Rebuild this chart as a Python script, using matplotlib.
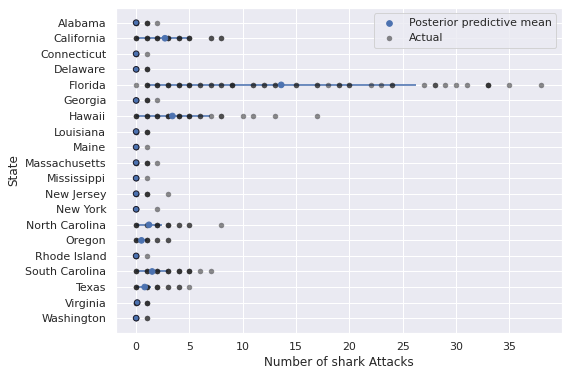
import matplotlib
matplotlib.use("Agg")
import matplotlib.pyplot as plt
import seaborn as sns

sns.set_theme()

states = ["Alabama", "California", "Connecticut", "Delaware", "Florida", "Georgia",
          "Hawaii", "Louisiana", "Maine", "Massachusetts", "Mississippi", "New Jersey",
          "New York", "North Carolina", "Oregon", "Rhode Island", "South Carolina",
          "Texas", "Virginia", "Washington"]

# posterior predictive mean and interval
pp_mean = [0.0, 2.7, 0.0, 0.0, 13.6, 0.0, 3.4, 0.0, 0.0, 0.0, 0.0, 0.0,
           0.0, 1.2, 0.5, 0.0, 1.5, 0.8, 0.1, 0.0]
pp_low = [0, 0, 0, 0, 1, 0, 0, 0, 0, 0, 0, 0, 0, 0, 0, 0, 0, 0, 0, 0]
pp_high = [0.3, 5, 0.2, 0.3, 26.2, 0.3, 6.9, 0.3, 0.2, 0.3, 0.2, 0.3,
           0.2, 2.4, 1.0, 0.2, 3.0, 1.4, 0.3, 0.3]

# actual yearly attack counts (repeats give the darker dots)
actual = {
    "Alabama": [0, 0, 0, 1, 1, 1, 2],
    "California": [0, 0, 0, 1, 1, 1, 2, 2, 2, 3, 3, 3, 4, 4, 4, 5, 5, 5, 7, 7, 8, 8],
    "Connecticut": [0, 0, 0, 1],
    "Delaware": [0, 0, 0, 1, 1, 1],
    "Florida": [0, 1, 1, 1, 2, 2, 2, 3, 3, 3, 4, 4, 4, 5, 5, 5, 6, 6, 7, 7, 8, 8, 9, 9, 9,
                11, 11, 12, 12, 13, 13, 15, 15, 17, 17, 18, 19, 19, 20, 20, 22, 23, 24, 24,
                27, 28, 28, 29, 30, 31, 33, 33, 33, 35, 38],
    "Georgia": [0, 0, 0, 1, 1, 1, 2],
    "Hawaii": [0, 0, 0, 1, 1, 1, 2, 2, 2, 3, 3, 3, 4, 4, 4, 5, 5, 5, 6, 6, 7, 8, 8,
               10, 11, 13, 17],
    "Louisiana": [0, 0, 0, 1, 1, 1],
    "Maine": [0, 0, 0, 1],
    "Massachusetts": [0, 0, 0, 1, 1, 1, 2],
    "Mississippi": [0, 0, 0, 1],
    "New Jersey": [0, 0, 0, 1, 1, 1, 3],
    "New York": [0, 0, 0, 2],
    "North Carolina": [0, 0, 0, 1, 1, 2, 2, 2, 3, 3, 3, 4, 4, 5, 5, 8],
    "Oregon": [0, 0, 0, 1, 1, 1, 2, 2, 3, 3],
    "Rhode Island": [0, 0, 0, 1],
    "South Carolina": [0, 0, 0, 1, 1, 1, 2, 2, 2, 3, 3, 3, 4, 4, 4, 5, 5, 5, 6, 7],
    "Texas": [0, 0, 0, 1, 1, 1, 2, 2, 2, 3, 3, 4, 4, 5],
    "Virginia": [0, 0, 0, 1, 1, 1],
    "Washington": [0, 0, 0, 1, 1],
}

fig = plt.figure(figsize=(568 / 72, 377 / 72), dpi=72)
ax = fig.add_axes([0.204, 0.117, 0.785, 0.862])

ypos = list(range(len(states)))

ax.hlines(ypos, pp_low, pp_high, color="C0", alpha=0.8, lw=2, zorder=2)

ax_x = []
ax_y = []
for i, s in enumerate(states):
    for v in actual[s]:
        ax_x.append(v)
        ax_y.append(i)
ax.scatter(ax_x, ax_y, color="k", alpha=0.5, s=30, lw=0, zorder=3, label="Actual")
# dark rim where the mean sits on top of the stacked zero counts
edges = ["#1c1c2a" if m < 0.3 else "C0" for m in pp_mean]
ax.scatter(pp_mean, ypos, color="C0", s=32, edgecolors=edges, linewidths=1,
           zorder=4, label="Posterior predictive mean")

ax.set_yticks(ypos)
ax.set_yticklabels(states)
ax.set_ylim(len(states) - 1 + 0.95, -0.95)
ax.set_xlim(-1.9, 39.9)
ax.set_xlabel("Number of shark Attacks")
ax.set_ylabel("State")
h, l = ax.get_legend_handles_labels()
leg = ax.legend(h[::-1], l[::-1], loc="upper right")
leg.legend_handles[0].set_edgecolor("C0")

fig.savefig("out.png", dpi=72)
